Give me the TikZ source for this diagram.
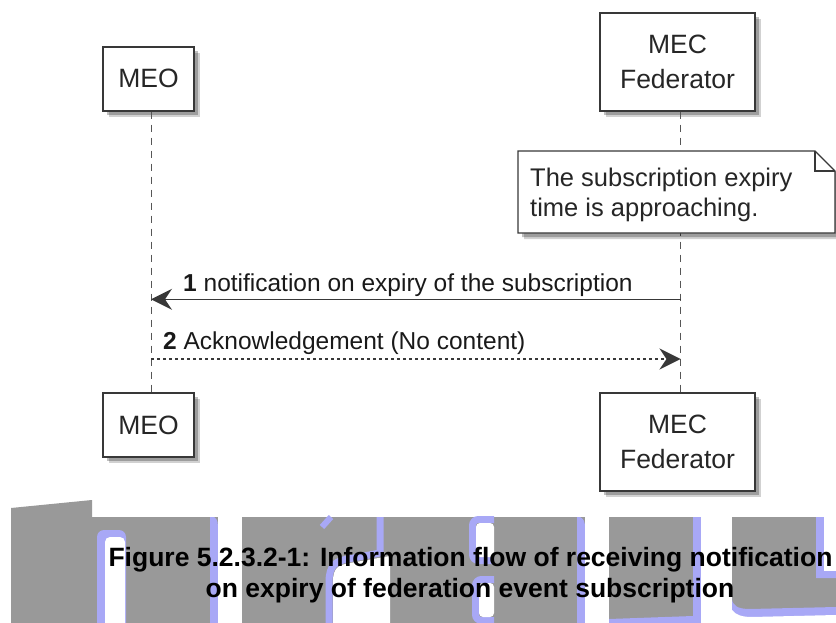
\documentclass[tikz,border=0pt]{standalone}
\usepackage{fontspec}
\setmainfont{Liberation Sans}
\usetikzlibrary{arrows.meta,shadows,calc}
\definecolor{wmgray}{RGB}{153,153,153}
\definecolor{wmblue}{RGB}{168,168,246}
\definecolor{linec}{RGB}{56,56,56}
\tikzset{
 partbox/.style={draw=linec,line width=1.9pt,fill=white,inner sep=0pt,align=center,text=black!85,
   font=\fontsize{26.5}{35}\selectfont,
   drop shadow={shadow xshift=6pt,shadow yshift=-6pt,opacity=0.18,fill=black},
   drop shadow={shadow xshift=4pt,shadow yshift=-4pt,opacity=0.25,fill=black}},
 lifeline/.style={draw=linec!85,line width=1pt,dash pattern=on 7pt off 6pt},
 msgline/.style={draw=linec,line width=1.4pt,-{Stealth[length=21pt,width=21pt,inset=7pt]}},
 msgtext/.style={anchor=base west,inner sep=0pt,font=\fontsize{24.5}{30}\selectfont,text=black!90},
 notetext/.style={anchor=base west,inner sep=0pt,font=\fontsize{25.5}{29.5}\selectfont,text=black!85},
 captext/.style={anchor=base,inner sep=0pt,font=\bfseries\fontsize{26.5}{31}\selectfont}
}
\begin{document}
\begin{tikzpicture}[x=1pt,y=-1pt]
\useasboundingbox (0,0) rectangle (836,623);
% ---------- background watermark shapes ----------
\fill[wmgray] (11,508) -- (92,500) -- (92,517) -- (836,517) -- (836,623) -- (11,623) -- cycle;
% H1
\fill[wmblue] (97,623) [rounded corners=7pt] -- (97,530) -- (126,530) [sharp corners] -- (126,623) -- cycle;
\fill[white] (105,623) [rounded corners=5pt] -- (105,537) -- (125,537) [sharp corners] -- (125,623) -- cycle;
% H2
\fill[wmblue] (210,623) -- (210,517) -- (214,517) .. controls (218,519) and (218,524) .. (218,530) -- (218,623) -- cycle;
\fill[white] (218,517) rectangle (242,623);
% H3
\fill[white] (333,623) -- (333,582) .. controls (333,568) and (338,565) .. (350,563) -- (390,556) -- (390,623) -- cycle;
\draw[wmblue,line width=7pt] (329,623) -- (329,582) .. controls (329,565) and (336,561) .. (348,559) -- (380,553) -- (380,517);
\draw[wmblue,line width=6pt] (322,527) -- (331,517);
% H4, H5
\draw[wmblue,line width=7pt,rounded corners=6pt] (494,519.5) -- (472.5,519.5) -- (472.5,560.5) -- (494,560.5);
\fill[white,rounded corners=4pt] (476,523) rectangle (494,557);
\draw[wmblue,line width=7pt,rounded corners=6pt] (494,579.5) -- (475.5,579.5) -- (475.5,620.5) -- (494,620.5);
\fill[white,rounded corners=4pt] (479,583) rectangle (494,617);
% H6
\fill[wmblue] (577,623) -- (577,517) -- (580,517) .. controls (584,519) and (585,522) .. (585,528) -- (585,623) -- cycle;
\fill[white] (585,517) rectangle (609,623);
% H7
\fill[wmblue] (693,517) rectangle (701,623);
\fill[white] (701,517) rectangle (732,623);
\fill[wmblue] (609,623) -- (609,619) -- (693,616) -- (693,623) -- cycle;
% H8 (u)
\fill[wmblue] (816,517) -- (824,517) -- (824,571) -- (836,571) -- (836,578) -- (816,578) -- cycle;
\fill[white] (824,517) rectangle (836,571);
\fill[wmblue] (732,623) -- (732,598) .. controls (732,606) and (738,609) .. (750,609) -- (836,607) -- (836,623) -- cycle;
\fill[white] (732,623) -- (732,610) .. controls (736,615) and (742,617) .. (752,617) -- (836,615) -- (836,623) -- cycle;
% ---------- participants ----------
\node[partbox,minimum width=91pt,minimum height=64pt] (meoT) at (148.5,78.7) {MEO};
\node[partbox,minimum width=155pt,minimum height=98pt] (fedT) at (677.5,61.7) {MEC\\Federator};
\node[partbox,minimum width=91pt,minimum height=64pt] (meoB) at (148.5,425.3) {MEO};
\node[partbox,minimum width=155pt,minimum height=97.4pt] (fedB) at (677.5,442) {MEC\\Federator};
\path ([xshift=2.5pt]meoT.south) coordinate (meoL) ([xshift=3pt]fedT.south) coordinate (fedL);
% lifelines
\draw[lifeline] (meoL) -- (meoL |- meoB.north);
\draw[lifeline] (fedL) -- (fedL |- fedB.north);
% ---------- note ----------
\fill[black,opacity=0.18] (524,157) -- (821,157) -- (841,177) -- (841,239) -- (524,239) -- cycle;
\fill[black,opacity=0.25] (522,155) -- (819,155) -- (839,175) -- (839,237) -- (522,237) -- cycle;
\draw[linec,line width=1.4pt,fill=white] (518,151) -- (815,151) -- (835,171) -- (835,233) -- (518,233) -- cycle;
\draw[linec,line width=1.4pt] (815,151) -- (815,171) -- (835,171);
\node[notetext] (n1) at (530,187) {The subscription expiry};
\node[notetext] (n2) at (530,216.5) {time is approaching.};
% ---------- messages ----------
\coordinate (m1a) at (fedL |- 0,299.3);
\coordinate (m1b) at (meoL |- 0,299.3);
\coordinate (m2a) at (meoL |- 0,359);
\coordinate (m2b) at (fedL |- 0,359);
\draw[msgline] (m1a) -- (m1b);
\draw[msgline,dash pattern=on 3pt off 3pt] (m2a) -- (m2b);
\node[msgtext] (l1) at (183,291) {\textbf{1} notification on expiry of the subscription};
\node[msgtext] (l2) at (163,349) {\textbf{2} Acknowledgement (No content)};
% ---------- caption ----------
\node[captext] (c1) at (470.5,566) {Figure 5.2.3.2-1: Information flow of receiving notification};
\node[captext] (c2) at (470,597) {on expiry of federation event subscription};
\end{tikzpicture}
\end{document}
